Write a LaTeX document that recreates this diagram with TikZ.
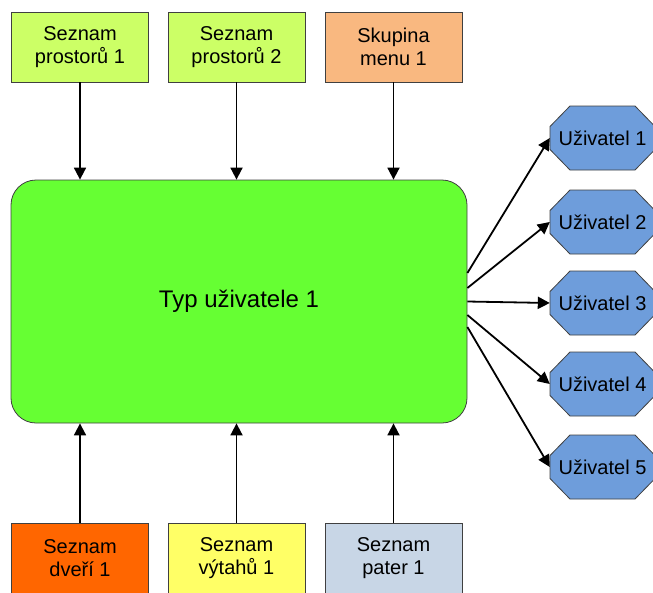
\documentclass[tikz,border=0pt]{standalone}
\usepackage{fontspec}
\setmainfont{Liberation Sans}
\usetikzlibrary{arrows.meta}
\definecolor{lgreen}{HTML}{CCFF66}
\definecolor{peach}{HTML}{F9B880}
\definecolor{maingreen}{HTML}{66FF33}
\definecolor{dorange}{HTML}{FF6600}
\definecolor{lyellow}{HTML}{FFFF66}
\definecolor{lblue}{HTML}{C8D6E6}
\definecolor{octblue}{HTML}{6E9DDB}
\tikzset{
  box/.style={draw=black!75, line width=0.8pt, minimum width=137pt, minimum height=70pt, inner sep=0pt, align=center, font=\fontsize{20}{23}\selectfont},
  arr/.style={line width=1.8pt, -{Triangle[length=12pt,width=12pt]}},
  octo/.style={draw=black!75, line width=0.8pt, fill=octblue},
}
\begin{document}
\begin{tikzpicture}[x=1pt,y=-1pt]
\useasboundingbox (0,0) rectangle (653,592);
\clip (0,0) rectangle (653,592);
% top boxes
\node[box, fill=lgreen] (p1) at (80,47) {Seznam\\prostorů 1};
\node[box, fill=lgreen] (p2) at (236.5,47) {Seznam\\prostorů 2};
\node[box, fill=peach] (m1) at (393.5,47) {Skupina\\menu 1};
% main
\node[draw=black!75, line width=0.8pt, fill=maingreen, rounded corners=25pt, minimum width=456pt, minimum height=243pt, font=\fontsize{24}{28}\selectfont] (main) at (239,301.5) {Typ uživatele 1};
% bottom boxes
\node[box, fill=dorange] (d1) at (80,558) {Seznam\\dveří 1};
\node[box, fill=lyellow] (v1) at (236.5,558) {Seznam\\výtahů 1};
\node[box, fill=lblue] (t1) at (393.5,558) {Seznam\\pater 1};
% octagons
\foreach \i/\y in {1/138,2/222,3/303,4/384,5/467}{
  \draw[octo] (550,\y-11.5) -- (550,\y+11.5) -- (570,\y+32) -- (635,\y+32) -- (655,\y+11.5) -- (655,\y-11.5) -- (635,\y-32) -- (570,\y-32) -- cycle;
  \node[minimum width=105pt, minimum height=64pt, inner sep=0pt, font=\fontsize{20}{23}\selectfont] (u\i) at (602.5,\y) {Uživatel \i};
}
% arrows top
\draw[arr] (p1.south) -- (p1.south |- main.north);
\draw[arr] (p2.south) -- (p2.south |- main.north);
\draw[arr] (m1.south) -- (m1.south |- main.north);
% arrows bottom
\draw[arr] (d1.north) -- (d1.north |- main.south);
\draw[arr] (v1.north) -- (v1.north |- main.south);
\draw[arr] (t1.north) -- (t1.north |- main.south);
% arrows right
\draw[arr] ([yshift=28.5pt]main.east) -- (u1.west);
\draw[arr] ([yshift=13.5pt]main.east) -- (u2.west);
\draw[arr] ([yshift=0pt]main.east) -- (u3.west);
\draw[arr] ([yshift=-13.5pt]main.east) -- (u4.west);
\draw[arr] ([yshift=-25.5pt]main.east) -- (u5.west);
\end{tikzpicture}
\end{document}
